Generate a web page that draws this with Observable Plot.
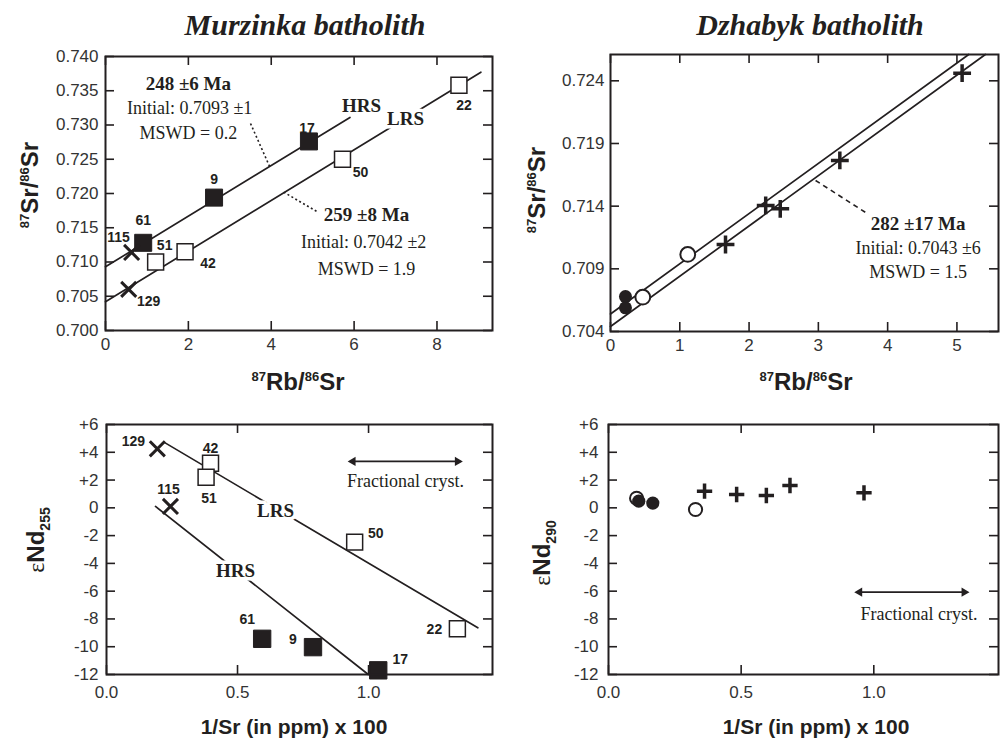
<!DOCTYPE html>
<html><head><meta charset="utf-8">
<script src="https://cdn.jsdelivr.net/npm/d3@7"></script>
<script src="https://cdn.jsdelivr.net/npm/@observablehq/plot@0.6"></script>
<style>
body{margin:0;background:#fff;}
#wrap{position:relative;width:1004px;height:741px;overflow:hidden;color:#231f20;font-family:"Liberation Sans",Arial,sans-serif}
.panel{position:absolute}
.t{position:absolute;white-space:nowrap}
.title{font:italic bold 30px/30px "Liberation Serif","Times New Roman",serif;transform:translateX(-50%)}
.xt{font:bold 24px/24px "Liberation Sans",Arial,sans-serif;transform:translateX(-50%)}
.xt2{font:bold 21px/21px "Liberation Sans",Arial,sans-serif;transform:translateX(-50%)}
.yt{font:bold 24px/24px "Liberation Sans",Arial,sans-serif;transform:translate(-50%,-50%) rotate(-90deg)}
sup{font-size:13px;line-height:0;vertical-align:9px}
sub{font-size:14px;line-height:0;vertical-align:-6px}
.eps{font:normal 24px "Liberation Serif","Times New Roman",serif}
</style></head>
<body><div id="wrap"></div>
<script>
// ---------------- DATA ----------------
// Murzinka batholith, Rb-Sr isochron
const mzSamples = ["17", "9", "61", "115", "51", "42", "129", "50", "22"];
const mzGroup   = ["HRS", "HRS", "HRS", "X", "LRS", "LRS", "X", "LRS", "LRS"];
const mzRbSr    = [4.91, 2.62, 0.91, 0.63, 1.21, 1.92, 0.56, 5.72, 8.53];
const mzSrSr    = [0.7276, 0.7194, 0.7128, 0.7114, 0.7100, 0.7115, 0.7060, 0.7250, 0.7358];
const mzIsoHRSx = [0, 5.9],  mzIsoHRSy = [0.7093, 0.7311];
const mzIsoLRSx = [0, 9.06], mzIsoLRSy = [0.7042, 0.7377];

// Murzinka batholith, eNd vs 1/Sr
const mzNdSamples = ["129", "42", "51", "115", "50", "22", "61", "9", "17"];
const mzInvSr     = [0.194, 0.397, 0.380, 0.244, 0.947, 1.339, 0.594, 0.788, 1.037];
const mzEpsNd     = [4.25, 3.21, 2.2, 0.1, -2.47, -8.71, -9.43, -10.03, -11.7];
const mzNdLRSx = [0.219, 1.417], mzNdLRSy = [4.73, -8.64];
const mzNdHRSx = [0.187, 0.999], mzNdHRSy = [0.1, -12];

// Dzhabyk batholith, Rb-Sr isochron
const dzType  = ["filled", "filled", "open", "open", "plus", "plus", "plus", "plus", "plus"];
const dzRbSr  = [0.216, 0.216, 0.466, 1.115, 1.66, 2.24, 2.45, 3.31, 5.075];
const dzSrSr  = [0.70679, 0.70589, 0.70674, 0.71015, 0.71094, 0.71406, 0.71379, 0.71765, 0.72461];
const dzIsoUx = [0, 5.17], dzIsoUy = [0.7054, 0.7261];
const dzIsoLx = [0, 5.41], dzIsoLy = [0.7044, 0.7261];

// Dzhabyk batholith, eNd vs 1/Sr
const dzNdType = ["open", "filled", "filled", "open", "plus", "plus", "plus", "plus", "plus"];
const dzInvSr  = [0.106, 0.114, 0.167, 0.328, 0.362, 0.483, 0.595, 0.684, 0.963];
const dzEpsNd  = [0.69, 0.48, 0.34, -0.12, 1.20, 0.96, 0.89, 1.61, 1.08];

// tick values
const rbTicksMz = [0, 2, 4, 6, 8];
const srTicksMz = [0.700, 0.705, 0.710, 0.715, 0.720, 0.725, 0.730, 0.735, 0.740];
const rbTicksDz = [0, 1, 2, 3, 4, 5];
const srTicksDz = [0.704, 0.709, 0.714, 0.719, 0.724];
const invSrTicks = [0, 0.5, 1.0];
const ndTicks = [6, 4, 2, 0, -2, -4, -6, -8, -10, -12];

// annotation texts
const mzAnnot = [
  {t: "248 ±6 Ma", x: 2.0, y: 0.73606, b: true},
  {t: "Initial: 0.7093 ±1", x: 2.03, y: 0.73241},
  {t: "MSWD = 0.2", x: 2.0, y: 0.72876},
  {t: "259 ±8 Ma", x: 6.30, y: 0.71693, b: true},
  {t: "Initial: 0.7042 ±2", x: 6.23, y: 0.71285},
  {t: "MSWD = 1.9", x: 6.30, y: 0.70891}
];
const mzSeriesLbl = [{t: "HRS", x: 6.18, y: 0.73285}, {t: "LRS", x: 7.24, y: 0.73095}];
const mzLeaders = [[3.50, 0.73022, 3.96, 0.72395], [4.30, 0.7202, 5.14, 0.71723]];
const dzAnnot = [
  {t: "282 ±17 Ma", x: 4.44, y: 0.71262, b: true},
  {t: "Initial: 0.7043 ±6", x: 4.44, y: 0.71062},
  {t: "MSWD = 1.5", x: 4.44, y: 0.70871}
];
const dzLeader = [[2.96, 0.71605, 3.68, 0.71350]];
const mzNdSeriesLbl = [{t: "LRS", x: 0.645, y: -0.19}, {t: "HRS", x: 0.492, y: -4.56}];
const mzFrac = {x1: 0.929, x2: 1.351, y: 3.34, tx: 1.141, ty: 1.9};
const dzFrac = {x1: 0.935, x2: 1.352, y: -6.07, tx: 1.17, ty: -7.63};

// label offsets (px)
const mzOff = {"17": [-2, -13], "9": [0, -18], "61": [0, -22], "115": [-13, -15], "51": [9, -16],
               "42": [23, 12], "129": [20, 12], "50": [18, 13], "22": [5, 20]};
const mzNdOff = {"129": [-24, -7], "42": [0, -15], "51": [3, 21], "115": [-2, -17], "50": [21, -9],
                 "22": [-23, 1], "61": [-15, -19], "9": [-20, -8], "17": [22, -11]};

// ---------------- DRAW ----------------
const ink = "#231f20";
const serif = "Liberation Serif, Times New Roman, serif";
const sans = "Liberation Sans, Arial, sans-serif";
const wrap = document.getElementById("wrap");
const pts = (xs, ys) => xs.map((x, i) => ({x, y: ys[i]}));
const signed = d => d > 0 ? "+" + d : String(d);

function panel(cfg) {
  const {left, top, width, height, m: [mt, mr, mb, ml], xd, yd, xt, yt, xfmt, yfmt, xpad, ypad, marks} = cfg;
  const pw = width - ml - mr, ph = height - mt - mb, L = 9;
  const ddx = L * (xd[1] - xd[0]) / pw, ddy = L * (yd[1] - yd[0]) / ph;
  const tk = {stroke: ink, strokeWidth: 1.6};
  const chart = Plot.plot({
    width, height, marginTop: mt, marginRight: mr, marginBottom: mb, marginLeft: ml,
    x: {domain: xd, label: null}, y: {domain: yd, label: null},
    style: {fontFamily: sans, fontSize: "17px", color: ink, background: "transparent", overflow: "visible"},
    marks: [
      Plot.ruleX(xt, {x: d => d, y1: yd[0], y2: yd[0] + ddy, ...tk}),
      Plot.ruleX(xt, {x: d => d, y1: yd[1], y2: yd[1] - ddy, ...tk}),
      Plot.ruleY(yt, {y: d => d, x1: xd[0], x2: xd[0] + ddx, ...tk}),
      Plot.ruleY(yt, {y: d => d, x1: xd[1], x2: xd[1] - ddx, ...tk}),
      Plot.axisX(xt, {anchor: "bottom", tickSize: 0, tickPadding: xpad, tickFormat: xfmt, fill: "#333", fontSize: 17}),
      Plot.axisY(yt, {anchor: "left", tickSize: 0, tickPadding: ypad, tickFormat: yfmt, fill: "#333", fontSize: 17}),
      ...marks,
      Plot.frame({stroke: ink, strokeWidth: 2})
    ]
  });
  const div = document.createElement("div");
  div.className = "panel";
  div.style.left = left + "px"; div.style.top = top + "px";
  div.appendChild(chart);
  wrap.appendChild(div);
}

function sampleLabels(rows, off) {
  return rows.map(r => Plot.text([r], {x: "x", y: "y", text: "s", dx: off[r.s][0], dy: off[r.s][1],
    fontFamily: sans, fontWeight: "bold", fontSize: 14, fill: ink}));
}
function annot(rows) {
  return [
    Plot.text(rows.filter(d => d.b), {x: "x", y: "y", text: "t", fontFamily: serif, fontWeight: "bold", fontSize: 19, fill: ink}),
    Plot.text(rows.filter(d => !d.b), {x: "x", y: "y", text: "t", fontFamily: serif, fontSize: 18, fill: ink})
  ];
}
function seriesLbl(rows) {
  return Plot.text(rows, {x: "x", y: "y", text: "t", fontFamily: serif, fontWeight: "bold", fontSize: 19,
    fill: ink, stroke: "white", strokeWidth: 7, paintOrder: "stroke"});
}
function frac(f) {
  return [
    Plot.link([f], {x1: "x1", x2: "x2", y1: "y", y2: "y", stroke: ink, strokeWidth: 1.8}),
    Plot.dot([f], {x: "x2", y: "y", symbol: "triangle", r: 3.4, rotate: 90, dx: -3, fill: ink}),
    Plot.dot([f], {x: "x1", y: "y", symbol: "triangle", r: 3.4, rotate: -90, dx: 3, fill: ink}),
    Plot.text([f], {x: "tx", y: "ty", text: () => "Fractional cryst.", fontFamily: serif, fontSize: 18, fill: ink})
  ];
}
const leaders = (arr, dash) => Plot.link(arr, {x1: d => d[0], y1: d => d[1], x2: d => d[2], y2: d => d[3],
  stroke: ink, strokeWidth: 1.6, strokeDasharray: dash});

// Panel 1: Murzinka Rb-Sr
const mzRS = mzSamples.map((s, i) => ({s, g: mzGroup[i], x: mzRbSr[i], y: mzSrSr[i]}));
panel({
  left: 0, top: 0, width: 500, height: 400, m: [56, 8, 70, 105],
  xd: [0, 9.34], yd: [0.700, 0.740], xt: rbTicksMz, yt: srTicksMz,
  xfmt: d3.format("d"), yfmt: d3.format(".3f"), xpad: 7, ypad: 7,
  marks: [
    Plot.line(pts(mzIsoHRSx, mzIsoHRSy), {x: "x", y: "y", stroke: ink, strokeWidth: 1.7}),
    Plot.line(pts(mzIsoLRSx, mzIsoLRSy), {x: "x", y: "y", stroke: ink, strokeWidth: 1.7}),
    leaders(mzLeaders, "2,2.5"),
    Plot.dot(mzRS.filter(d => d.g === "LRS"), {x: "x", y: "y", symbol: "square", r: 9.0, fill: "white", stroke: ink, strokeWidth: 1.5}),
    Plot.dot(mzRS.filter(d => d.g === "HRS"), {x: "x", y: "y", symbol: "square", r: 9.6, fill: ink, stroke: ink, strokeWidth: 1}),
    Plot.dot(mzRS.filter(d => d.g === "X"), {x: "x", y: "y", symbol: "times", r: 6.9, fill: "none", stroke: ink, strokeWidth: 3}),
    ...sampleLabels(mzRS, mzOff),
    ...annot(mzAnnot),
    seriesLbl(mzSeriesLbl)
  ]
});

// Panel 2: Dzhabyk Rb-Sr
const dzRS = dzType.map((t, i) => ({t, x: dzRbSr[i], y: dzSrSr[i]}));
panel({
  left: 500, top: 0, width: 504, height: 400, m: [54, 6, 69, 110],
  xd: [0, 5.6], yd: [0.704, 0.7261], xt: rbTicksDz, yt: srTicksDz,
  xfmt: d3.format("d"), yfmt: d3.format(".3f"), xpad: 7, ypad: 6,
  marks: [
    Plot.line(pts(dzIsoUx, dzIsoUy), {x: "x", y: "y", stroke: ink, strokeWidth: 1.7}),
    Plot.line(pts(dzIsoLx, dzIsoLy), {x: "x", y: "y", stroke: ink, strokeWidth: 1.7}),
    leaders(dzLeader, "5,4"),
    Plot.dot(dzRS.filter(d => d.t === "open"), {x: "x", y: "y", symbol: "circle", r: 7.4, fill: "white", stroke: ink, strokeWidth: 2}),
    Plot.dot(dzRS.filter(d => d.t === "filled"), {x: "x", y: "y", symbol: "circle", r: 6.5, fill: ink}),
    Plot.dot(dzRS.filter(d => d.t === "plus"), {x: "x", y: "y", symbol: "plus", r: 5.8, fill: "none", stroke: ink, strokeWidth: 3.5}),
    ...annot(dzAnnot)
  ]
});

// Panel 3: Murzinka eNd
const mzNd = mzNdSamples.map((s, i) => ({s, g: mzGroup[mzSamples.indexOf(s)], x: mzInvSr[i], y: mzEpsNd[i]}));
panel({
  left: 0, top: 400, width: 500, height: 341, m: [24, 8, 67, 106],
  xd: [0, 1.473], yd: [-12, 6], xt: invSrTicks, yt: ndTicks,
  xfmt: d3.format(".1f"), yfmt: signed, xpad: 11, ypad: 8,
  marks: [
    Plot.line(pts(mzNdLRSx, mzNdLRSy), {x: "x", y: "y", stroke: ink, strokeWidth: 1.7}),
    Plot.line(pts(mzNdHRSx, mzNdHRSy), {x: "x", y: "y", stroke: ink, strokeWidth: 1.7}),
    Plot.dot(mzNd.filter(d => d.g === "LRS"), {x: "x", y: "y", symbol: "square", r: 9.0, fill: "white", stroke: ink, strokeWidth: 1.5}),
    Plot.dot(mzNd.filter(d => d.g === "HRS"), {x: "x", y: "y", symbol: "square", r: 9.8, fill: ink, stroke: ink, strokeWidth: 1}),
    Plot.dot(mzNd.filter(d => d.g === "X"), {x: "x", y: "y", symbol: "times", r: 6.9, fill: "none", stroke: ink, strokeWidth: 3}),
    ...sampleLabels(mzNd, mzNdOff),
    seriesLbl(mzNdSeriesLbl),
    ...frac(mzFrac)
  ]
});

// Panel 4: Dzhabyk eNd
const dzNd = dzNdType.map((t, i) => ({t, x: dzInvSr[i], y: dzEpsNd[i]}));
panel({
  left: 500, top: 400, width: 504, height: 341, m: [24, 6, 67, 108],
  xd: [0, 1.47], yd: [-12, 6], xt: invSrTicks, yt: ndTicks,
  xfmt: d3.format(".1f"), yfmt: signed, xpad: 11, ypad: 10,
  marks: [
    Plot.dot(dzNd.filter(d => d.t === "open"), {x: "x", y: "y", symbol: "circle", r: 6.6, fill: "white", stroke: ink, strokeWidth: 2}),
    Plot.dot(dzNd.filter(d => d.t === "filled"), {x: "x", y: "y", symbol: "circle", r: 6.6, fill: ink}),
    Plot.dot(dzNd.filter(d => d.t === "plus"), {x: "x", y: "y", symbol: "plus", r: 5.0, fill: "none", stroke: ink, strokeWidth: 3.5}),
    ...frac(dzFrac)
  ]
});

// ---------------- TEXT OVERLAYS ----------------
function addText(cls, html, x, y) {
  const el = document.createElement("div");
  el.className = "t " + cls;
  el.innerHTML = html;
  el.style.left = x + "px"; el.style.top = y + "px";
  wrap.appendChild(el);
}
addText("title", "Murzinka batholith", 305, 10);
addText("title", "Dzhabyk batholith", 810, 10);
addText("xt", "<sup>87</sup>Rb/<sup>86</sup>Sr", 298, 370);
addText("xt", "<sup>87</sup>Rb/<sup>86</sup>Sr", 806, 370);
addText("xt2", "1/Sr (in ppm) x 100", 294, 716);
addText("xt2", "1/Sr (in ppm) x 100", 816, 716);
addText("yt", "<sup>87</sup>Sr/<sup>86</sup>Sr", 30, 185);
addText("yt", "<sup>87</sup>Sr/<sup>86</sup>Sr", 537, 190);
addText("yt", "<span class='eps'>ε</span>Nd<sub>255</sub>", 36, 540);
addText("yt", "<span class='eps'>ε</span>Nd<sub>290</sub>", 542, 553);
</script></body></html>
